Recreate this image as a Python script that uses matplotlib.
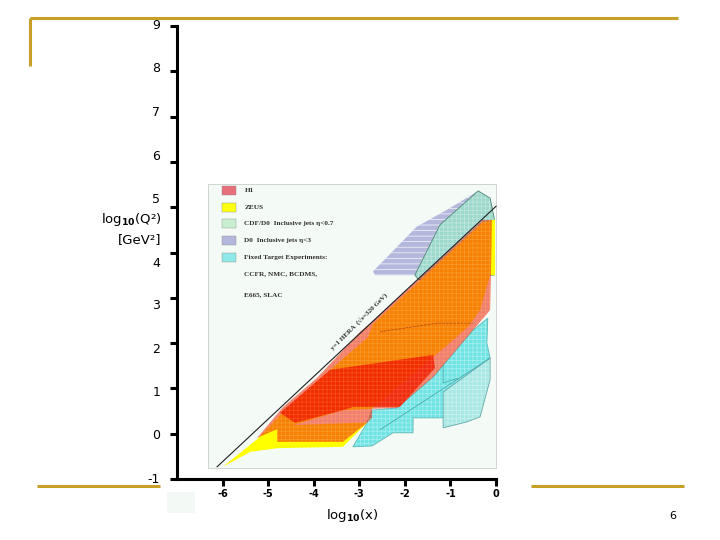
import matplotlib
matplotlib.use('Agg')
import matplotlib.pyplot as plt
from matplotlib.lines import Line2D
from matplotlib.patches import Polygon, Rectangle

plt.rcParams['hatch.linewidth'] = 0.5
plt.rcParams['axes.unicode_minus'] = False

# regions in log10(x), log10(Q2)
d0_x = [-2.70, -1.74, -1.08, -0.39, -0.13, -0.07, -1.78, -2.65]
d0_y = [3.58, 4.57, 4.94, 5.36, 5.20, 4.98, 3.50, 3.50]
cdf_x = [-1.78, -1.23, -0.39, -0.13, -0.04, -0.04, -0.15, -1.70]
cdf_y = [3.50, 4.61, 5.36, 5.20, 4.76, 3.50, 3.50, 3.40]
target_x = [-3.14, -2.72, -2.26, -1.82, -1.82, -1.16, -0.57, -0.13, -0.20, -0.18, -0.50, -1.38, -2.17, -2.72, -2.83]
target_y = [-0.29, -0.27, 0.02, 0.02, 0.35, 0.35, 0.90, 1.67, 2.00, 2.55, 2.29, 1.25, 0.57, 0.52, 0.24]
target2_x = [-1.16, -0.13, -0.13, -0.35, -0.64, -1.16]
target2_y = [0.92, 1.67, 1.19, 0.37, 0.26, 0.13]
zeus_x = [-5.99, -5.24, -4.67, -3.64, -2.81, -2.70, -0.29, -0.07, -0.02, -0.02, -0.13, -0.35, -0.61, -1.38, -2.72, -3.36, -4.45, -3.05, -2.83, -3.36, -4.80, -5.39]
zeus_y = [-0.73, -0.12, 0.48, 1.41, 2.13, 2.42, 4.67, 4.72, 4.72, 3.50, 3.50, 2.73, 2.36, 1.69, 0.55, 0.52, 0.19, 0.24, 0.24, -0.29, -0.32, -0.40]
h1_x = [-5.24, -4.67, -3.93, -2.98, -2.72, -0.29, -0.09, -0.11, -0.13, -0.50, -1.38, -2.17, -2.72, -2.72, -2.83, -3.36, -4.80, -4.80]
h1_y = [-0.09, 0.59, 1.23, 2.25, 2.47, 4.72, 4.72, 3.50, 2.73, 2.29, 1.25, 0.57, 0.55, 0.35, 0.24, -0.18, -0.18, 0.10]
core_x = [-4.74, -3.64, -1.38, -1.34, -2.11, -3.14, -3.36, -4.41]
core_y = [0.46, 1.41, 1.74, 1.45, 0.59, 0.59, 0.52, 0.24]
line_x = [-6.12, 0.0]
line_y = [-0.73, 5.02]
target_line_x = [-2.54, -0.13]
target_line_y = [0.09, 1.67]
box_x = [-1.16, -1.16, -0.85]
box_y = [1.52, 1.12, 1.22]
dash_x = [-2.54, -1.29, -0.50]
dash_y = [2.25, 2.44, 2.44]

tick_vals = [-1, 0, 1, 2, 3, 4, 5, 6, 7, 8, 9]
tick_text_y = [-1.02, -0.05, 0.90, 1.85, 2.82, 3.75, 5.18, 6.13, 7.08, 8.07, 9.02]
xticks = [-6, -5, -4, -3, -2, -1, 0]

legend_names = ['H1', 'ZEUS', 'CDF/D0  Inclusive jets η<0.7', 'D0  Inclusive jets η<3', 'Fixed Target Experiments:']
legend_y = [5.37, 5.00, 4.65, 4.27, 3.90]
legend_cols = ['#e8707a', '#ffff10', '#c8f0d0', '#b4b8dc', '#90e8e8']
legend_extra = ['CCFR, NMC, BCDMS,', 'E665, SLAC']
legend_extra_y = [3.53, 3.08]

fig = plt.figure(figsize=(7.2, 5.4), dpi=100)
ax = fig.add_axes([177 / 720, 1 - 479 / 540, (496 - 177) / 720, (479 - 26) / 540])
ax.set_xlim(-7, 0)
ax.set_ylim(-1, 9)
ax.patch.set_visible(False)

ax.add_patch(Rectangle((-6.32, -0.76), 6.32, 6.27, fc='#f4faf6', ec='#c8cec8', lw=0.6, clip_on=False, zorder=0))

def region(xs, ys, fc, hatch=None, hc='white', ec='none', alpha=1.0, z=1, lw=0.6, ha=0.4):
    # fill and hatch separately so the grid keeps its own colour
    pts = list(zip(xs, ys))
    ax.add_patch(Polygon(pts, fc=fc, ec='none', alpha=alpha, zorder=z, clip_on=False))
    if hatch:
        ax.add_patch(Polygon(pts, fc='none', ec=hc, hatch=hatch, lw=0, alpha=ha, zorder=z, clip_on=False))
    if ec != 'none':
        ax.add_patch(Polygon(pts, fc='none', ec=ec, lw=lw, zorder=z, clip_on=False))

region(target_x, target_y, '#70e4e4', '++++', 'white', '#60b8b8', z=1)
region(target2_x, target2_y, '#a8e8e4', '++++', 'white', '#60a8a8', z=2)
region(d0_x, d0_y, '#b4b8dc', '---', 'white', z=1, ha=0.9)
region(cdf_x, cdf_y, '#9cd8cc', '++++', 'white', '#508878', z=2)
region(zeus_x, zeus_y, '#ffff00', z=3)
region(h1_x, h1_y, '#f01808', '++++', '#ffc060', z=4, alpha=0.55)
region(core_x, core_y, '#f01800', '++++', '#ff8040', z=5, alpha=0.8)

ax.plot(target_line_x, target_line_y, color='#40a0a0', lw=0.5, zorder=3)
ax.plot(box_x, box_y, color='#40a0a0', lw=0.5, zorder=3)
ax.plot(dash_x, dash_y, color='#b04010', lw=0.5, ls='--', zorder=6)
ax.plot(line_x, line_y, color='#202020', lw=0.8, zorder=6, clip_on=False)
ax.text(-3.0, 2.48, 'y=1 HERA  (√s=320 GeV)', rotation=45, rotation_mode='anchor', ha='center', va='center',
        fontsize=5, family='Liberation Serif', weight='bold', color='#303030', zorder=7,
        bbox=dict(fc='#f4faf6', ec='none', pad=0.4))

# legend inside the picture
for name, y, col in zip(legend_names, legend_y, legend_cols):
    ax.add_patch(Rectangle((-6.02, y - 0.1), 0.31, 0.2, fc=col, ec='#909090', lw=0.3, zorder=3))
    ax.text(-5.52, y, name, fontsize=5.2, family='Liberation Serif', weight='bold', va='center', color='#303030')
for name, y in zip(legend_extra, legend_extra_y):
    ax.text(-5.52, y, name, fontsize=5.2, family='Liberation Serif', weight='bold', va='center', color='#303030')

for s in ['top', 'right']:
    ax.spines[s].set_visible(False)
for s in ['left', 'bottom']:
    ax.spines[s].set_linewidth(2.2)
    ax.spines[s].set_zorder(8)
ax.set_xticks(xticks)
ax.set_yticks(tick_vals)
ax.set_yticklabels([])
ax.tick_params(axis='y', length=5, width=2.2)
ax.tick_params(axis='x', length=5, width=2.2, pad=2, labelsize=7)
for t in ax.get_xticklabels():
    t.set_fontweight('bold')

# the y numbers do not sit level with their ticks in the original
for val, y in zip(tick_vals, tick_text_y):
    ax.text(-7.37, y, str(val), ha='right', va='center', fontsize=9, clip_on=False)

fig.text(161 / 720, 1 - 220 / 540, r'log$_{\mathbf{10}}$(Q²)', ha='right', va='center', fontsize=9.5)
fig.text(161 / 720, 1 - 240 / 540, '[GeV²]', ha='right', va='center', fontsize=9.5)
fig.text(352 / 720, 1 - 516 / 540, r'log$_{\mathbf{10}}$(x)', ha='center', va='center', fontsize=9.5)
fig.text(673 / 720, 1 - 516 / 540, '6', ha='center', va='center', fontsize=8)

# slide frame
gold = '#c8a028'
for xs, ys in [((30, 678), (18, 18)), ((30, 30), (18, 66)), ((37, 160), (486, 486)), ((531, 684), (486, 486))]:
    fig.add_artist(Line2D([v / 720 for v in xs], [1 - v / 540 for v in ys], color=gold, lw=2.2,
                          solid_capstyle='butt', zorder=0))
fig.add_artist(Rectangle((167 / 720, 1 - 513 / 540), 28 / 720, 21 / 540, fc='#f3f9f4', ec='none',
                         transform=fig.transFigure, zorder=0))

fig.savefig('out.png', dpi=100)
